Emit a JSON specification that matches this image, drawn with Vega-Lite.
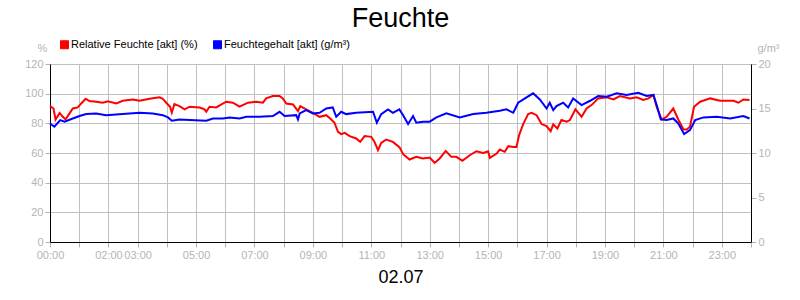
{
  "$schema": "https://vega.github.io/schema/vega-lite/v6.json",
  "width": 701,
  "height": 178,
  "autosize": "none",
  "padding": {"left": 50, "right": 49, "top": 64, "bottom": 58},
  "background": "white",
  "config": {
    "font": "Liberation Sans",
    "view": {"stroke": "black", "strokeWidth": 1},
    "axis": {
      "labelColor": "#b4b4b4", "labelFontSize": 11, "labelFont": "Liberation Sans",
      "tickColor": "#b4b4b4", "tickSize": 5, "labelPadding": 2,
      "domainColor": "black", "gridColor": "#c0c0c0", "gridWidth": 1,
      "titleFont": "Liberation Sans", "titleFontWeight": "normal"
    }
  },
  "title": {"text": "Feuchte", "fontSize": 27, "fontWeight": "normal", "font": "Liberation Sans", "color": "black", "anchor": "middle", "offset": 6},
  "datasets": {
    "rf": [
      {"zeit":0,"wert":91.6},{"zeit":0.12,"wert":90},{"zeit":0.19,"wert":82.6},{"zeit":0.33,"wert":87},{"zeit":0.44,"wert":84.4},{"zeit":0.53,"wert":82.6},{"zeit":0.67,"wert":86.7},{"zeit":0.78,"wert":90},{"zeit":0.95,"wert":90.7},{"zeit":1.07,"wert":93.4},{"zeit":1.22,"wert":96.6},{"zeit":1.35,"wert":95},{"zeit":1.58,"wert":94.6},{"zeit":1.81,"wert":93.9},{"zeit":1.98,"wert":94.8},{"zeit":2.27,"wert":93.4},{"zeit":2.49,"wert":95.2},{"zeit":2.84,"wert":96.1},{"zeit":3.07,"wert":95.2},{"zeit":3.41,"wert":96.6},{"zeit":3.75,"wert":97.5},{"zeit":3.86,"wert":96.6},{"zeit":3.98,"wert":93.9},{"zeit":4.11,"wert":91.2},{"zeit":4.17,"wert":87.3},{"zeit":4.26,"wert":93},{"zeit":4.43,"wert":91.6},{"zeit":4.61,"wert":89.4},{"zeit":4.78,"wert":91.2},{"zeit":5.12,"wert":90.7},{"zeit":5.29,"wert":89.4},{"zeit":5.35,"wert":87.8},{"zeit":5.46,"wert":91.2},{"zeit":5.69,"wert":90.7},{"zeit":6.03,"wert":94.6},{"zeit":6.26,"wert":93.9},{"zeit":6.49,"wert":91.2},{"zeit":6.78,"wert":93.9},{"zeit":7.06,"wert":94.6},{"zeit":7.29,"wert":93.9},{"zeit":7.4,"wert":96.8},{"zeit":7.63,"wert":98.4},{"zeit":7.86,"wert":98.4},{"zeit":7.97,"wert":96.8},{"zeit":8.09,"wert":93.4},{"zeit":8.32,"wert":92.7},{"zeit":8.49,"wert":88.2},{"zeit":8.57,"wert":91.6},{"zeit":8.77,"wert":89.4},{"zeit":9.0,"wert":87.1},{"zeit":9.23,"wert":84.4},{"zeit":9.46,"wert":85.5},{"zeit":9.63,"wert":82.6},{"zeit":9.74,"wert":80.4},{"zeit":9.86,"wert":74.3},{"zeit":9.97,"wert":72.7},{"zeit":10.09,"wert":73.6},{"zeit":10.26,"wert":71.4},{"zeit":10.48,"wert":69.8},{"zeit":10.62,"wert":67.5},{"zeit":10.77,"wert":71.4},{"zeit":11.0,"wert":70.9},{"zeit":11.11,"wert":67.5},{"zeit":11.23,"wert":61.9},{"zeit":11.34,"wert":66.8},{"zeit":11.51,"wert":69.1},{"zeit":11.74,"wert":67.5},{"zeit":11.97,"wert":63.7},{"zeit":12.09,"wert":59.2},{"zeit":12.31,"wert":55.6},{"zeit":12.54,"wert":57.4},{"zeit":12.77,"wert":56.3},{"zeit":13.0,"wert":56.9},{"zeit":13.17,"wert":53.3},{"zeit":13.34,"wert":56.3},{"zeit":13.55,"wert":61.4},{"zeit":13.74,"wert":57.4},{"zeit":13.91,"wert":57.4},{"zeit":14.12,"wert":54.7},{"zeit":14.37,"wert":58.5},{"zeit":14.6,"wert":61.2},{"zeit":14.83,"wert":60.1},{"zeit":15.0,"wert":61.2},{"zeit":15.06,"wert":56.7},{"zeit":15.29,"wert":59.6},{"zeit":15.4,"wert":62.3},{"zeit":15.57,"wert":60.8},{"zeit":15.69,"wert":64.6},{"zeit":15.86,"wert":64.1},{"zeit":15.97,"wert":64.1},{"zeit":16.06,"wert":72},{"zeit":16.2,"wert":79.5},{"zeit":16.37,"wert":86.3},{"zeit":16.49,"wert":87.1},{"zeit":16.66,"wert":85.5},{"zeit":16.83,"wert":79.5},{"zeit":17.0,"wert":78.1},{"zeit":17.14,"wert":74.7},{"zeit":17.23,"wert":79.3},{"zeit":17.37,"wert":76.5},{"zeit":17.51,"wert":82.2},{"zeit":17.69,"wert":81.1},{"zeit":17.8,"wert":82.2},{"zeit":17.99,"wert":89.4},{"zeit":18.2,"wert":84.4},{"zeit":18.37,"wert":90},{"zeit":18.54,"wert":92.3},{"zeit":18.77,"wert":96.8},{"zeit":19.06,"wert":97.5},{"zeit":19.29,"wert":96.1},{"zeit":19.51,"wert":98.4},{"zeit":19.86,"wert":96.8},{"zeit":20.09,"wert":97.5},{"zeit":20.31,"wert":95.7},{"zeit":20.49,"wert":96.8},{"zeit":20.66,"wert":99.1},{"zeit":20.77,"wert":91.2},{"zeit":20.94,"wert":82.6},{"zeit":21.11,"wert":84.4},{"zeit":21.34,"wert":90},{"zeit":21.51,"wert":82.6},{"zeit":21.69,"wert":75.9},{"zeit":21.8,"wert":75.9},{"zeit":21.91,"wert":77.7},{"zeit":22.05,"wert":91.2},{"zeit":22.26,"wert":94.6},{"zeit":22.6,"wert":96.8},{"zeit":22.94,"wert":95.2},{"zeit":23.4,"wert":95.2},{"zeit":23.57,"wert":93.9},{"zeit":23.74,"wert":96.1},{"zeit":23.95,"wert":95.7}
    ],
    "fg": [
      {"zeit":0,"wert":13.32},{"zeit":0.15,"wert":12.95},{"zeit":0.35,"wert":13.7},{"zeit":0.5,"wert":13.52},{"zeit":0.78,"wert":13.88},{"zeit":1.01,"wert":14.15},{"zeit":1.24,"wert":14.37},{"zeit":1.58,"wert":14.45},{"zeit":1.92,"wert":14.25},{"zeit":2.49,"wert":14.37},{"zeit":3.07,"wert":14.52},{"zeit":3.52,"wert":14.45},{"zeit":3.86,"wert":14.25},{"zeit":4.04,"wert":14.0},{"zeit":4.17,"wert":13.62},{"zeit":4.43,"wert":13.77},{"zeit":4.78,"wert":13.7},{"zeit":5.35,"wert":13.62},{"zeit":5.58,"wert":13.88},{"zeit":5.92,"wert":13.88},{"zeit":6.15,"wert":14.0},{"zeit":6.49,"wert":13.88},{"zeit":6.72,"wert":14.07},{"zeit":7.17,"wert":14.07},{"zeit":7.63,"wert":14.15},{"zeit":7.86,"wert":14.63},{"zeit":8.03,"wert":14.15},{"zeit":8.43,"wert":14.25},{"zeit":8.49,"wert":13.77},{"zeit":8.55,"wert":14.45},{"zeit":8.77,"wert":14.82},{"zeit":9.0,"wert":14.45},{"zeit":9.23,"wert":14.52},{"zeit":9.46,"wert":15.0},{"zeit":9.68,"wert":15.12},{"zeit":9.8,"wert":14.07},{"zeit":9.97,"wert":14.63},{"zeit":10.14,"wert":14.37},{"zeit":10.48,"wert":14.52},{"zeit":11.06,"wert":14.63},{"zeit":11.19,"wert":13.4},{"zeit":11.34,"wert":14.37},{"zeit":11.57,"wert":14.9},{"zeit":11.74,"wert":14.52},{"zeit":11.96,"wert":14.9},{"zeit":12.09,"wert":14.25},{"zeit":12.26,"wert":13.25},{"zeit":12.43,"wert":14.15},{"zeit":12.54,"wert":13.4},{"zeit":12.77,"wert":13.52},{"zeit":13.0,"wert":13.52},{"zeit":13.23,"wert":14.0},{"zeit":13.57,"wert":14.45},{"zeit":14.03,"wert":14.0},{"zeit":14.49,"wert":14.37},{"zeit":14.94,"wert":14.52},{"zeit":15.4,"wert":14.75},{"zeit":15.63,"wert":14.9},{"zeit":15.86,"wert":14.52},{"zeit":16.03,"wert":15.65},{"zeit":16.26,"wert":16.13},{"zeit":16.54,"wert":16.7},{"zeit":16.77,"wert":16.02},{"zeit":17.0,"wert":15.0},{"zeit":17.11,"wert":15.65},{"zeit":17.23,"wert":14.82},{"zeit":17.34,"wert":15.27},{"zeit":17.57,"wert":15.65},{"zeit":17.74,"wert":15.12},{"zeit":17.91,"wert":16.13},{"zeit":18.2,"wert":15.38},{"zeit":18.49,"wert":15.87},{"zeit":18.77,"wert":16.4},{"zeit":19.06,"wert":16.33},{"zeit":19.4,"wert":16.7},{"zeit":19.74,"wert":16.52},{"zeit":20.14,"wert":16.77},{"zeit":20.43,"wert":16.4},{"zeit":20.66,"wert":16.52},{"zeit":20.77,"wert":15.38},{"zeit":20.91,"wert":13.77},{"zeit":21.11,"wert":13.7},{"zeit":21.34,"wert":13.88},{"zeit":21.51,"wert":13.32},{"zeit":21.71,"wert":12.12},{"zeit":21.91,"wert":12.57},{"zeit":22.09,"wert":13.7},{"zeit":22.37,"wert":14.0},{"zeit":22.83,"wert":14.07},{"zeit":23.29,"wert":13.88},{"zeit":23.74,"wert":14.15},{"zeit":23.95,"wert":13.88}
    ]
  },
  "encoding": {
    "x": {"field": "zeit", "type": "quantitative", "scale": {"domain": [0, 24], "nice": false},
      "axis": {"values": [0,1,2,3,4,5,6,7,8,9,10,11,12,13,14,15,16,17,18,19,20,21,22,23,24], "grid": true,
        "labelExpr": "indexof([0,2,3,5,7,9,11,13,15,17,19,21,23], datum.value) >= 0 ? (datum.value < 10 ? '0' : '') + datum.value + ':00' : ''",
        "title": "02.07", "titleFontSize": 18, "titleColor": "black", "titlePadding": 8, "labelFlush": false, "labelOverlap": false}}
  },
  "layer": [
    {
      "data": {"name": "rf"},
      "mark": {"type": "line", "strokeWidth": 2, "interpolate": "linear"},
      "encoding": {
        "y": {"field": "wert", "type": "quantitative", "scale": {"domain": [0, 120], "nice": false},
          "axis": {"orient": "left", "values": [0,20,40,60,80,100,120], "grid": true,
            "title": "%", "titleAngle": 0, "titleX": -8, "titleY": -16, "titleAlign": "center", "titleBaseline": "middle", "titleFontSize": 11, "titleColor": "#b4b4b4"}},
        "color": {"datum": "Relative Feuchte [akt] (%)", "type": "nominal",
          "scale": {"domain": ["Relative Feuchte [akt] (%)", "Feuchtegehalt [akt] (g/m³)"], "range": ["#ff0000", "#0000ff"]},
          "legend": {"orient": "none", "legendX": 9, "legendY": -25, "direction": "horizontal", "title": null,
            "labelFontSize": 11, "labelColor": "black", "labelFont": "Liberation Sans", "columnPadding": 13, "labelOffset": 1, "symbolSize": 64,
            "encode": {"symbols": {"update": {"fill": {"scale": "color", "field": "value"}, "stroke": {"value": "black"}, "strokeWidth": {"value": 1}, "shape": {"value": "square"}, "opacity": {"value": 1}}}}}}
      }
    },
    {
      "data": {"name": "fg"},
      "mark": {"type": "line", "strokeWidth": 2, "interpolate": "linear"},
      "encoding": {
        "y": {"field": "wert", "type": "quantitative", "scale": {"domain": [0, 20], "nice": false},
          "axis": {"orient": "right", "values": [0,5,10,15,20], "grid": false,
            "title": "g/m³", "titleAngle": 0, "titleX": 17, "titleY": -16, "titleAlign": "center", "titleBaseline": "middle", "titleFontSize": 11, "titleColor": "#b4b4b4"}},
        "color": {"datum": "Feuchtegehalt [akt] (g/m³)", "type": "nominal"}
      }
    }
  ],
  "resolve": {"scale": {"y": "independent"}}
}
